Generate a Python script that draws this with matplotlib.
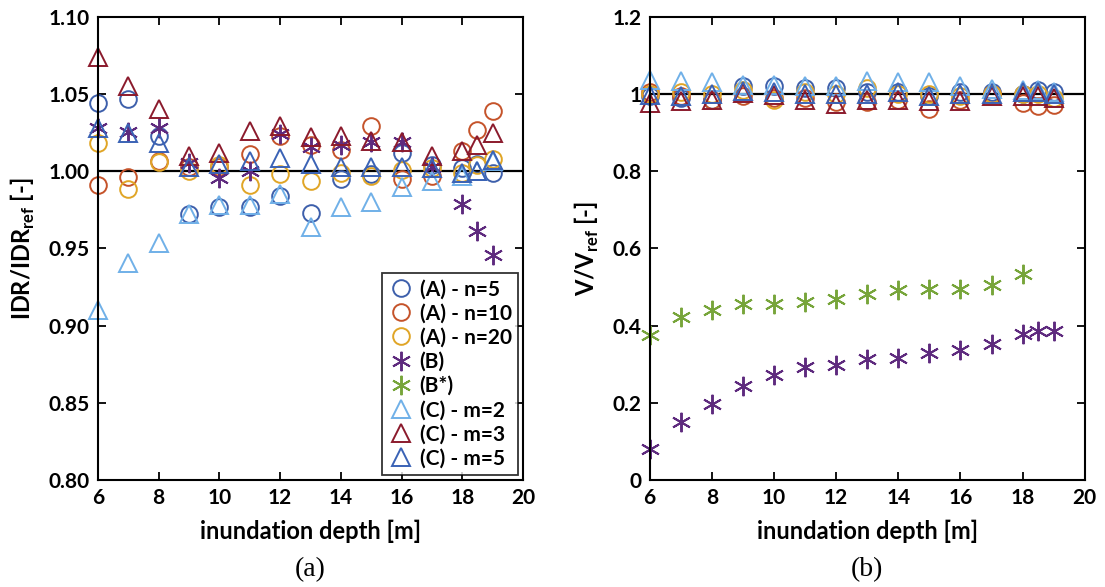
import matplotlib
matplotlib.use('Agg')
import matplotlib.pyplot as plt

plt.rcParams['font.family'] = ['Lato', 'DejaVu Sans']
plt.rcParams['font.weight'] = 'bold'
plt.rcParams['mathtext.fontset'] = 'custom'
plt.rcParams['mathtext.bf'] = 'Lato:bold'

# inundation depth [m]
depth = [6, 7, 8, 9, 10, 11, 12, 13, 14, 15, 16, 17, 18, 18.5, 19]
depth_bs = [6, 7, 8, 9, 10, 11, 12, 13, 14, 15, 16, 17, 18]

# (a) IDR / IDR_ref
idr_a5 = [1.044, 1.047, 1.023, 0.972, 0.977, 0.977, 0.984, 0.973, 0.995, 0.998, 1.0115, 1.004, 1.002, 1.005, 0.999]
idr_a10 = [0.991, 0.996, 1.0065, 1.003, 1.003, 1.011, 1.023, 1.017, 1.014, 1.029, 0.995, 0.997, 1.013, 1.027, 1.039]
idr_a20 = [1.018, 0.9885, 1.006, 1.000, 1.004, 0.991, 0.998, 0.9935, 0.999, 0.997, 1.001, 1.002, 0.999, 1.004, 1.008]
idr_b = [1.028, 1.0255, 1.028, 1.0055, 0.9955, 1.000, 1.024, 1.016, 1.017, 1.019, 1.019, 1.003, 0.979, 0.961, 0.946]
idr_c2 = [0.910, 0.9407, 0.9537, 0.972, 0.978, 0.978, 0.985, 0.964, 0.977, 0.980, 0.990, 0.9935, 0.997, 1.000, 1.0065]
idr_c3 = [1.074, 1.055, 1.040, 1.0098, 1.0115, 1.026, 1.029, 1.022, 1.023, 1.0195, 1.019, 1.0098, 1.013, 1.017, 1.025]
idr_c5 = [1.028, 1.025, 1.0185, 1.003, 1.005, 1.0065, 1.0087, 1.005, 1.003, 1.003, 1.003, 1.002, 0.999, 1.000, 1.007]

# (b) V / V_ref
v_a5 = [0.995, 0.990, 0.985, 1.020, 1.020, 1.015, 1.015, 1.005, 1.005, 0.995, 1.005, 1.005, 1.000, 1.010, 1.005]
v_a10 = [1.005, 0.995, 0.985, 0.995, 0.990, 0.990, 0.980, 0.980, 0.985, 0.962, 0.985, 1.000, 0.978, 0.968, 0.972]
v_a20 = [1.000, 1.005, 1.000, 1.010, 0.985, 1.005, 1.000, 1.015, 1.000, 1.000, 0.995, 1.000, 1.000, 1.000, 0.990]
v_b = [0.080, 0.150, 0.198, 0.2435, 0.272, 0.293, 0.298, 0.313, 0.317, 0.329, 0.337, 0.353, 0.378, 0.387, 0.387]
v_bs = [0.3765, 0.422, 0.441, 0.4565, 0.4565, 0.461, 0.4696, 0.481, 0.491, 0.4957, 0.4957, 0.504, 0.535]
v_c2 = [1.037, 1.035, 1.030, 1.024, 1.024, 1.022, 1.020, 1.035, 1.032, 1.032, 1.022, 1.013, 1.010, 1.010, 1.005]
v_c3 = [0.978, 0.981, 0.985, 1.003, 0.998, 0.985, 0.975, 0.985, 0.985, 0.983, 0.983, 0.995, 0.995, 0.995, 0.990]
v_c5 = [0.998, 0.995, 1.000, 1.008, 1.005, 1.000, 1.000, 1.000, 1.005, 0.995, 1.000, 1.000, 1.005, 1.005, 1.000]

c_a5 = '#3d5fab'
c_a10 = '#c5532a'
c_a20 = '#e0a526'
c_b = '#5e2a7e'
c_bs = '#77a53a'
c_c2 = '#70b0e8'
c_c3 = '#8b1a2c'
c_c5 = '#3a62b5'

ms = 12
mew = 1.4
star = (6, 2, 0)

fig = plt.figure(figsize=(11.05, 5.87), dpi=100)
ax1 = fig.add_axes([0.0887, 0.1823, 0.3846, 0.789])
ax2 = fig.add_axes([0.588, 0.1823, 0.3937, 0.789])


def draw(ax, a5, a10, a20, b, bs, c2, c3, c5):
    ax.axhline(1, color='black', lw=1.6, zorder=1)
    kw = dict(ls='none', mew=mew, clip_on=False)
    ax.plot(depth, a5, 'o', ms=ms, mfc='none', mec=c_a5, label='(A) - n=5', **kw)
    ax.plot(depth, a10, 'o', ms=ms, mfc='none', mec=c_a10, label='(A) - n=10', **kw)
    ax.plot(depth, a20, 'o', ms=ms, mfc='none', mec=c_a20, label='(A) - n=20', **kw)
    ax.plot(depth, b, marker=star, ms=ms + 2, color=c_b, label='(B)', **kw)
    if bs is None:
        ax.plot([], [], marker=star, ms=ms + 2, color=c_bs, label='(B*)', **kw)
    else:
        ax.plot(depth_bs, bs, marker=star, ms=ms + 2, color=c_bs, label='(B*)', **kw)
    ax.plot(depth, c2, '^', ms=ms + 1, mfc='none', mec=c_c2, label='(C) - m=2', **kw)
    ax.plot(depth, c3, '^', ms=ms + 1, mfc='none', mec=c_c3, label='(C) - m=3', **kw)
    ax.plot(depth, c5, '^', ms=ms + 1, mfc='none', mec=c_c5, label='(C) - m=5', **kw)
    ax.set_xlim(6, 20)
    ax.set_xticks(range(6, 21, 2))
    ax.tick_params(direction='in', length=6, width=1.3, top=True, right=True,
                   labelsize=15, pad=6)
    for s in ax.spines.values():
        s.set_linewidth(1.5)
    ax.set_xlabel('inundation depth [m]', fontsize=17, fontweight='bold', labelpad=8)


draw(ax1, idr_a5, idr_a10, idr_a20, idr_b, None, idr_c2, idr_c3, idr_c5)
ax1.set_ylim(0.80, 1.10)
ax1.set_yticks([0.80, 0.85, 0.90, 0.95, 1.00, 1.05, 1.10])
ax1.set_yticklabels(['0.80', '0.85', '0.90', '0.95', '1.00', '1.05', '1.10'])
ax1.set_ylabel(r'IDR/IDR$_{\mathbf{ref}}$ [-]', fontsize=17, fontweight='bold', labelpad=8)
leg = ax1.legend(loc='lower right', fontsize=15, frameon=True, fancybox=False,
                 edgecolor='black', handletextpad=0.3, borderpad=0.3, labelspacing=0.2,
                 handlelength=1.2, borderaxespad=0.25)
leg.get_frame().set_linewidth(1.3)

draw(ax2, v_a5, v_a10, v_a20, v_b, v_bs, v_c2, v_c3, v_c5)
ax2.set_ylim(0, 1.2)
ax2.set_yticks([0, 0.2, 0.4, 0.6, 0.8, 1.0, 1.2])
ax2.set_yticklabels(['0', '0.2', '0.4', '0.6', '0.8', '1', '1.2'])
ax2.set_ylabel(r'V/V$_{\mathbf{ref}}$ [-]', fontsize=17, fontweight='bold', labelpad=8)

fig.text(0.281, 0.029, '(a)', fontsize=20, family='Liberation Serif', fontweight='normal',
         ha='center', va='center')
fig.text(0.785, 0.029, '(b)', fontsize=20, family='Liberation Serif', fontweight='normal',
         ha='center', va='center')

fig.savefig('out.png', dpi=100)
